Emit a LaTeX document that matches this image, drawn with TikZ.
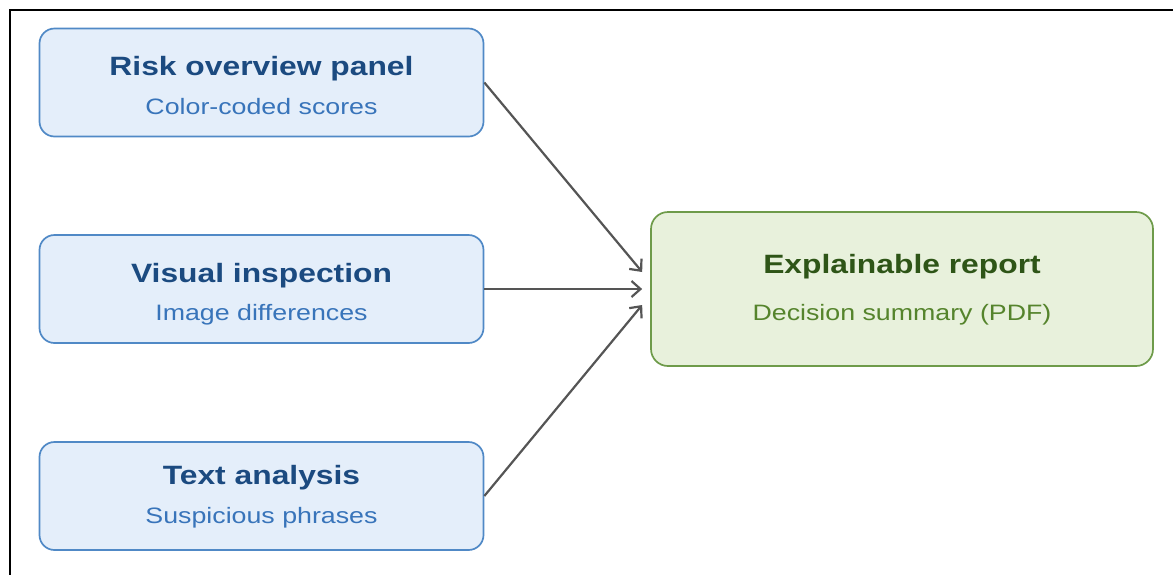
\documentclass[tikz,border=0pt]{standalone}
\usepackage{fontspec}
\usetikzlibrary{arrows.meta}
\newfontfamily\boxfont[FakeStretch=1.2]{Liberation Sans}
\definecolor{bluefill}{HTML}{E4EEFA}
\definecolor{blueline}{HTML}{5089C6}
\definecolor{bluetitle}{HTML}{1B4A80}
\definecolor{bluesub}{HTML}{3874BA}
\definecolor{greenfill}{HTML}{E8F1DC}
\definecolor{greenline}{HTML}{6E9B4A}
\definecolor{greentitle}{HTML}{2E5517}
\definecolor{greensub}{HTML}{55842C}
\definecolor{arrowgray}{HTML}{555555}
\tikzset{
  panel/.style={rectangle, rounded corners=15pt, draw=blueline, fill=bluefill,
    line width=1.7pt, minimum width=444pt, minimum height=108pt, inner sep=0pt},
  report/.style={rectangle, rounded corners=17pt, draw=greenline, fill=greenfill,
    line width=1.7pt, minimum width=502pt, minimum height=154pt, inner sep=0pt},
  titletext/.style={anchor=base, inner sep=0pt,
    font=\boxfont\bfseries\fontsize{26.5}{30}\selectfont},
  subtext/.style={anchor=base, inner sep=0pt,
    font=\boxfont\fontsize{22.3}{26}\selectfont},
  flow/.style={draw=arrowgray, line width=2.2pt,
    -{Straight Barb[length=9pt,width=16pt]}},
  frameline/.style={draw=black, line width=2pt}
}
\begin{document}
\begin{tikzpicture}[x=1pt,y=-1pt]
  \useasboundingbox (0,0) rectangle (1173,574);
  % outer frame (only the top and left edges fall inside the page)
  \draw[frameline] (9.5,600) -- (9.5,9.5) -- (1200,9.5);

  % input panels
  \node[panel] (risk)   at (261.5,82.5) {};
  \node[panel] (visual) at (261.5,289)  {};
  \node[panel] (text)   at (261.5,496)  {};

  \node[titletext, text=bluetitle] (riskT)   at ([yshift=7.5pt]risk.center)    {Risk overview panel};
  \node[subtext,   text=bluesub]   (riskS)   at ([yshift=-31.5pt]risk.center)  {Color-coded scores};
  \node[titletext, text=bluetitle] (visualT) at ([yshift=7pt]visual.center)    {Visual inspection};
  \node[subtext,   text=bluesub]   (visualS) at ([yshift=-31pt]visual.center)  {Image differences};
  \node[titletext, text=bluetitle] (textT)   at ([yshift=12pt]text.center)     {Text analysis};
  \node[subtext,   text=bluesub]   (textS)   at ([yshift=-27pt]text.center)    {Suspicious phrases};

  % output report
  \node[report] (rep) at (902,289) {};
  \node[titletext, text=greentitle] (repT) at ([yshift=16pt]rep.center)  {Explainable report};
  \node[subtext,   text=greensub]   (repS) at ([yshift=-31pt]rep.center) {Decision summary (PDF)};

  % arrow targets just left of the report box
  \coordinate (inA) at ([xshift=-8pt,yshift=17pt]rep.west);
  \coordinate (inB) at ([xshift=-8pt]rep.west);
  \coordinate (inC) at ([xshift=-8pt,yshift=-16pt]rep.west);

  \draw[flow] (risk.east)   -- (inA);
  \draw[flow] (visual.east) -- (inB);
  \draw[flow] (text.east)   -- (inC);
\end{tikzpicture}
\end{document}
